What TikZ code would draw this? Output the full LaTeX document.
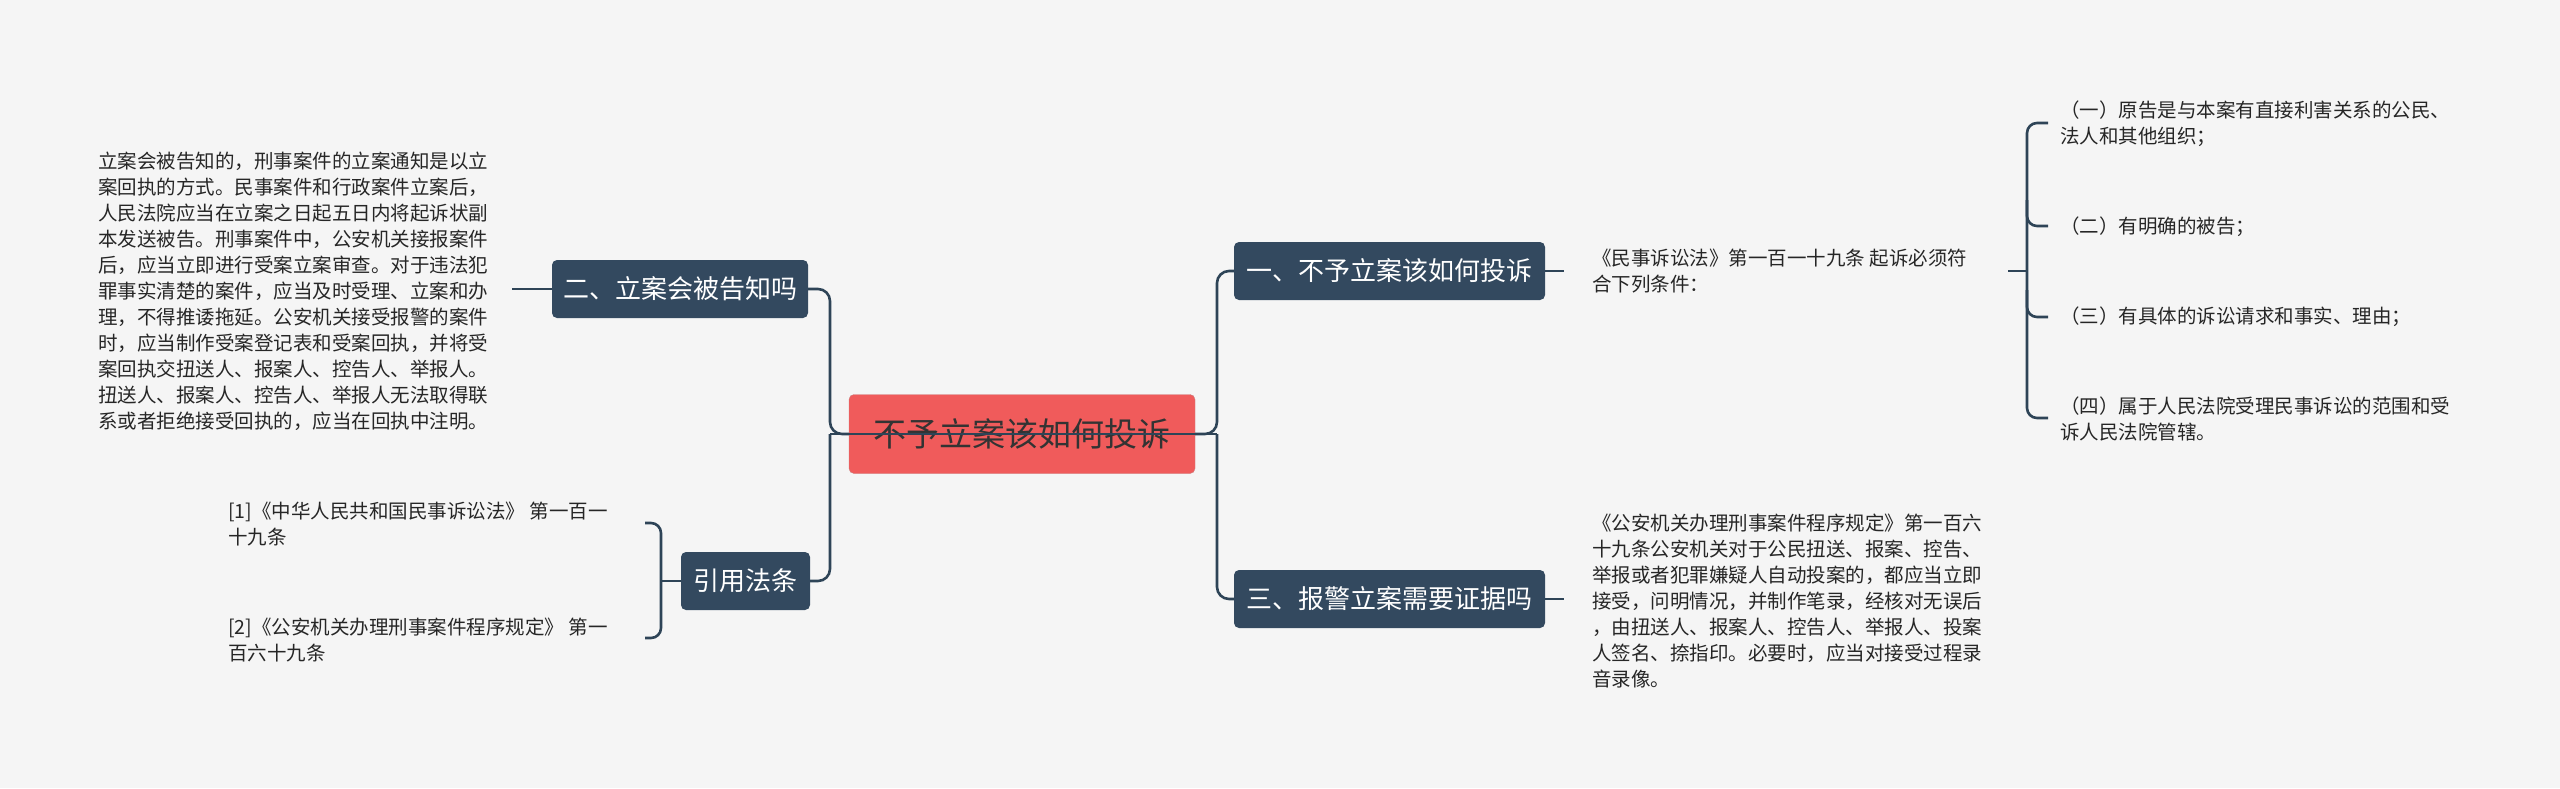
\documentclass[tikz,border=0pt]{standalone}
\usepackage{fontspec}
\setmainfont{Noto Sans CJK SC}
\begin{document}
\begin{tikzpicture}[x=1pt,y=-1pt,
  conn/.style={draw=lnc,line width=2.6pt,rounded corners=12pt},
  branch/.style={fill=nodec,text=white,rounded corners=5pt,font=\fontsize{26}{30}\selectfont,inner sep=0pt,minimum height=58pt},
  body/.style={font=\fontsize{19.5}{26}\selectfont,text=black!85,align=left,inner sep=0pt,anchor=west}]
\definecolor{bg}{HTML}{F5F5F5}
\definecolor{lnc}{HTML}{2E4457}
\definecolor{nodec}{HTML}{33495F}
\definecolor{redc}{HTML}{F05B5B}
\fill[bg] (0,0) rectangle (2560,788);
\useasboundingbox (0,0) rectangle (2560,788);
% nodes
\node[fill=redc,draw=red!60!black!50,rounded corners=5pt,minimum width=346pt,minimum height=79pt,font=\fontsize{33}{36}\selectfont,text=black!80] (c) at (1022,434) {不予立案该如何投诉};
\node[branch,minimum width=256pt] (b2) at (680,289) {二、立案会被告知吗};
\node[branch,minimum width=129pt] (bref) at (745.5,581) {引用法条};
\node[branch,minimum width=311pt] (b1) at (1389.5,271) {一、不予立案该如何投诉};
\node[branch,minimum width=311pt] (b3) at (1389.5,599) {三、报警立案需要证据吗};
% texts
\node[body] (t2) at (98,291) {立案会被告知的，刑事案件的立案通知是以立\\案回执的方式。民事案件和行政案件立案后，\\人民法院应当在立案之日起五日内将起诉状副\\本发送被告。刑事案件中，公安机关接报案件\\后，应当立即进行受案立案审查。对于违法犯\\罪事实清楚的案件，应当及时受理、立案和办\\理，不得推诿拖延。公安机关接受报警的案件\\时，应当制作受案登记表和受案回执，并将受\\案回执交扭送人、报案人、控告人、举报人。\\扭送人、报案人、控告人、举报人无法取得联\\系或者拒绝接受回执的，应当在回执中注明。};
\node[body] (r1) at (228,524) {[1]《中华人民共和国民事诉讼法》 第一百一\\十九条};
\node[body] (r2) at (228,640) {[2]《公安机关办理刑事案件程序规定》 第一\\百六十九条};
\node[body] (t1) at (1592,271) {《民事诉讼法》第一百一十九条 起诉必须符\\合下列条件：};
\node[body] (t3) at (1592,601) {《公安机关办理刑事案件程序规定》第一百六\\十九条公安机关对于公民扭送、报案、控告、\\举报或者犯罪嫌疑人自动投案的，都应当立即\\接受，问明情况，并制作笔录，经核对无误后\\，由扭送人、报案人、控告人、举报人、投案\\人签名、捺指印。必要时，应当对接受过程录\\音录像。};
\node[body] (i1) at (2060,124) {（一）原告是与本案有直接利害关系的公民、\\法人和其他组织；};
\node[body] (i2) at (2060,227) {（二）有明确的被告；};
\node[body] (i3) at (2060,317) {（三）有具体的诉讼请求和事实、理由；};
\node[body] (i4) at (2060,419) {（四）属于人民法院受理民事诉讼的范围和受\\诉人民法院管辖。};
% connectors
\coordinate (lt) at (830,434);
\coordinate (rt) at (1217,434);
\draw[conn] (c.west) -- (lt) |- (b2.east);
\draw[conn] (lt) |- (bref.east);
\draw[conn] (c.east) -- (rt) |- (b1.west);
\draw[conn] (rt) |- (b3.west);
\draw[draw=lnc,line width=2.6pt] (lt) -- (rt);
\draw[conn] (b2.west) -- (512,289);
\draw[conn] (b1.east) -- (1564,271);
\draw[conn] (b3.east) -- (1564,599);
% ref bracket
\coordinate (rb) at (661,581);
\draw[conn,rounded corners=10pt] (bref.west) -- (rb);
\draw[conn,rounded corners=10pt] (645,523) -- (661,523) -- (661,638) -- (645,638);
% item bracket
\coordinate (ib) at (2027,271);
\draw[conn] (2008,271) -- (ib);
\draw[conn,rounded corners=10pt] (2048,123) -- (2027,123) -- (2027,418) -- (2048,418);
\draw[conn,rounded corners=10pt] (2027,200) -- (2027,226) -- (2048,226);
\draw[conn,rounded corners=10pt] (2027,290) -- (2027,317) -- (2048,317);
\end{tikzpicture}
\end{document}
